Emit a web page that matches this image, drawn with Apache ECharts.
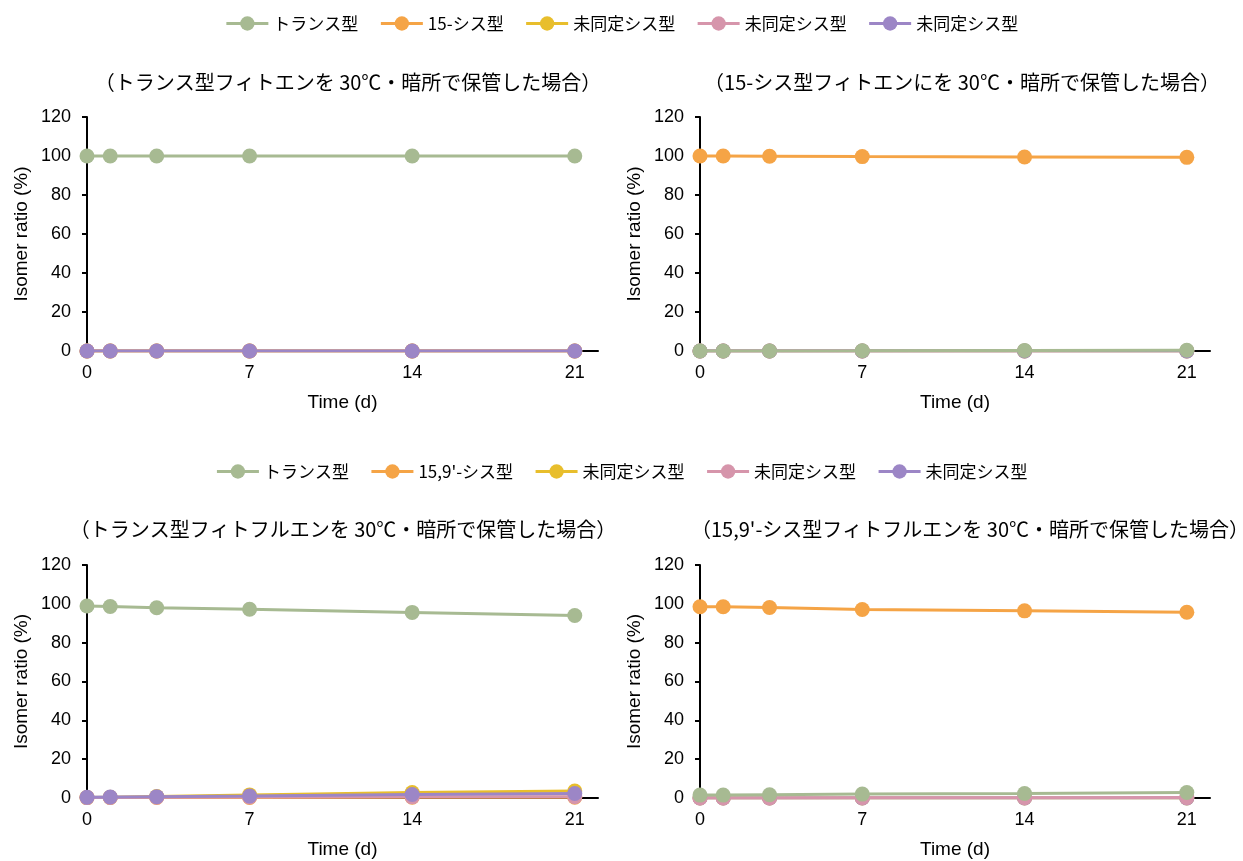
<!DOCTYPE html>
<html><head><meta charset="utf-8">
<script src="https://cdn.jsdelivr.net/npm/echarts@6/dist/echarts.min.js"></script>
<style>html,body{margin:0;padding:0;background:#fff}#c{width:1243px;height:861px}</style>
</head><body><div id="c"></div>
<script>
// Data
const days = [0, 1, 3, 7, 14, 21];
const xTicks = [0, 7, 14, 21];
const yTicks = [0, 20, 40, 60, 80, 100, 120];

const titles = [
  '（トランス型フィトエンを 30℃・暗所で保管した場合）',
  '（15-シス型フィトエンにを 30℃・暗所で保管した場合）',
  '（トランス型フィトフルエンを 30℃・暗所で保管した場合）',
  '（15,9\'-シス型フィトフルエンを 30℃・暗所で保管した場合）'
];
const topNames = ['トランス型', '15-シス型', '未同定シス型', '未同定シス型', '未同定シス型'];
const botNames = ['トランス型', '15,9\'-シス型', '未同定シス型', '未同定シス型', '未同定シス型'];

// Chart 1: trans-phytoene
const c1_trans = [100, 100, 100, 100, 100, 100];
const c1_cis15 = [0, 0, 0, 0, 0, 0];
const c1_u1 = [0, 0, 0, 0, 0, 0];
const c1_u2 = [0, 0, 0, 0, 0, 0];
const c1_u3 = [0, 0, 0, 0, 0, 0];
// Chart 2: 15-cis-phytoene
const c2_trans = [0, 0, 0, 0.1, 0.3, 0.4];
const c2_cis15 = [100, 100, 99.9, 99.7, 99.5, 99.3];
const c2_u1 = [0, 0, 0, 0, 0, 0];
const c2_u2 = [0, 0, 0, 0, 0, 0];
const c2_u3 = [0, 0, 0, 0, 0, 0];
// Chart 3: trans-phytofluene
const c3_trans = [98.9, 98.6, 98.0, 97.2, 95.6, 94.0];
const c3_cis = [0.3, 0.3, 0.3, 0.3, 0.4, 0.4];
const c3_u1 = [0.2, 0.4, 0.8, 1.6, 2.8, 3.6];
const c3_u2 = [0.2, 0.3, 0.4, 0.5, 0.6, 0.7];
const c3_u3 = [0.4, 0.5, 0.7, 1.0, 1.8, 2.3];
// Chart 4: 15,9'-cis-phytofluene
const c4_trans = [1.5, 1.5, 1.7, 2.0, 2.3, 2.8];
const c4_cis = [98.5, 98.5, 98.1, 97.1, 96.4, 95.7];
const c4_u1 = [0, 0, 0, 0, 0, 0];
const c4_u2 = [0, 0, 0, 0.1, 0.1, 0.2];
const c4_u3 = [0, 0, 0, 0, 0, 0];

const colors = ['#A7BA92', '#F5A446', '#E8BE2C', '#D695AB', '#9C86C6'];
const chartData = [
  [c1_trans, c1_cis15, c1_u1, c1_u2, c1_u3],
  [c2_trans, c2_cis15, c2_u1, c2_u2, c2_u3],
  [c3_trans, c3_cis, c3_u1, c3_u2, c3_u3],
  [c4_trans, c4_cis, c4_u1, c4_u2, c4_u3]
];
// drawing order (higher on top)
const zOrder = [
  [2, 3, 4, 5, 6],
  [9, 3, 4, 5, 6],
  [2, 3, 4, 5, 6],
  [9, 3, 4, 6, 5]
];

const grids = [
  {left: 87, top: 117, width: 511, height: 234},
  {left: 700, top: 117, width: 510, height: 234},
  {left: 87, top: 565, width: 511, height: 233},
  {left: 700, top: 565, width: 510, height: 233}
];
const titleCenters = [[343, 67], [957, 67], [338, 514], [965, 514]];
const font = 'Liberation Sans, Arial, sans-serif';
const jpFont = '"Noto Sans CJK JP", sans-serif';

const keyOf = (half, i) => half + '#' + i;
const series = [];
const xAxis = [], yAxis = [];
chartData.forEach((arrs, g) => {
  const half = g < 2 ? 'T' : 'B';
  xAxis.push({
    type: 'value', gridIndex: g, min: 0, max: 22, interval: 7,
    name: 'Time (d)', nameLocation: 'middle', nameGap: 42,
    nameTextStyle: {fontFamily: font, fontSize: 19, color: '#000'},
    axisLine: {onZero: true, lineStyle: {color: '#000', width: 2}},
    axisTick: {show: false},
    splitLine: {show: false},
    axisLabel: {fontFamily: font, fontSize: 18, color: '#000', showMaxLabel: false, margin: 13,
      formatter: v => xTicks.includes(v) ? String(v) : ''}
  });
  yAxis.push({
    type: 'value', gridIndex: g, min: 0, max: 120, interval: 20,
    name: 'Isomer ratio (%)', nameLocation: 'middle', nameGap: 56,
    nameTextStyle: {fontFamily: font, fontSize: 19, color: '#000'},
    axisLine: {show: true, lineStyle: {color: '#000', width: 2}},
    axisTick: {show: true, length: 5, lineStyle: {color: '#000', width: 2}},
    splitLine: {show: false},
    axisLabel: {fontFamily: font, fontSize: 18, color: '#000', margin: 16,
      formatter: v => yTicks.includes(v) ? String(v) : ''}
  });
  arrs.forEach((arr, i) => {
    series.push({
      name: keyOf(half, i), type: 'line', xAxisIndex: g, yAxisIndex: g,
      data: days.map((d, k) => [d, arr[k]]),
      symbol: 'circle', symbolSize: 15,
      lineStyle: {color: colors[i], width: 3},
      itemStyle: {color: colors[i]},
      emphasis: {disabled: true},
      z: zOrder[g][i]
    });
  });
});

const legendItem = (half, names) => names.map((n, i) => ({name: keyOf(half, i)}));
const legendBase = {
  left: 'center', itemWidth: 42, itemHeight: 18, itemGap: 21,
  lineStyle: {width: 3},
  textStyle: {fontFamily: jpFont, fontSize: 17, color: '#000'}
};
const option = {
  animation: false,
  color: colors,
  title: titles.map((t, g) => ({
    text: t, left: titleCenters[g][0], top: titleCenters[g][1], textAlign: 'center',
    textStyle: {fontFamily: jpFont, fontSize: 20, fontWeight: 'normal', color: '#000'}
  })),
  legend: [
    Object.assign({}, legendBase, {data: legendItem('T', topNames), top: 10,
      formatter: n => topNames[+n.split('#')[1]]}),
    Object.assign({}, legendBase, {data: legendItem('B', botNames), top: 458,
      formatter: n => botNames[+n.split('#')[1]]})
  ],
  grid: grids,
  xAxis, yAxis, series
};
echarts.init(document.getElementById('c')).setOption(option);
</script></body></html>
